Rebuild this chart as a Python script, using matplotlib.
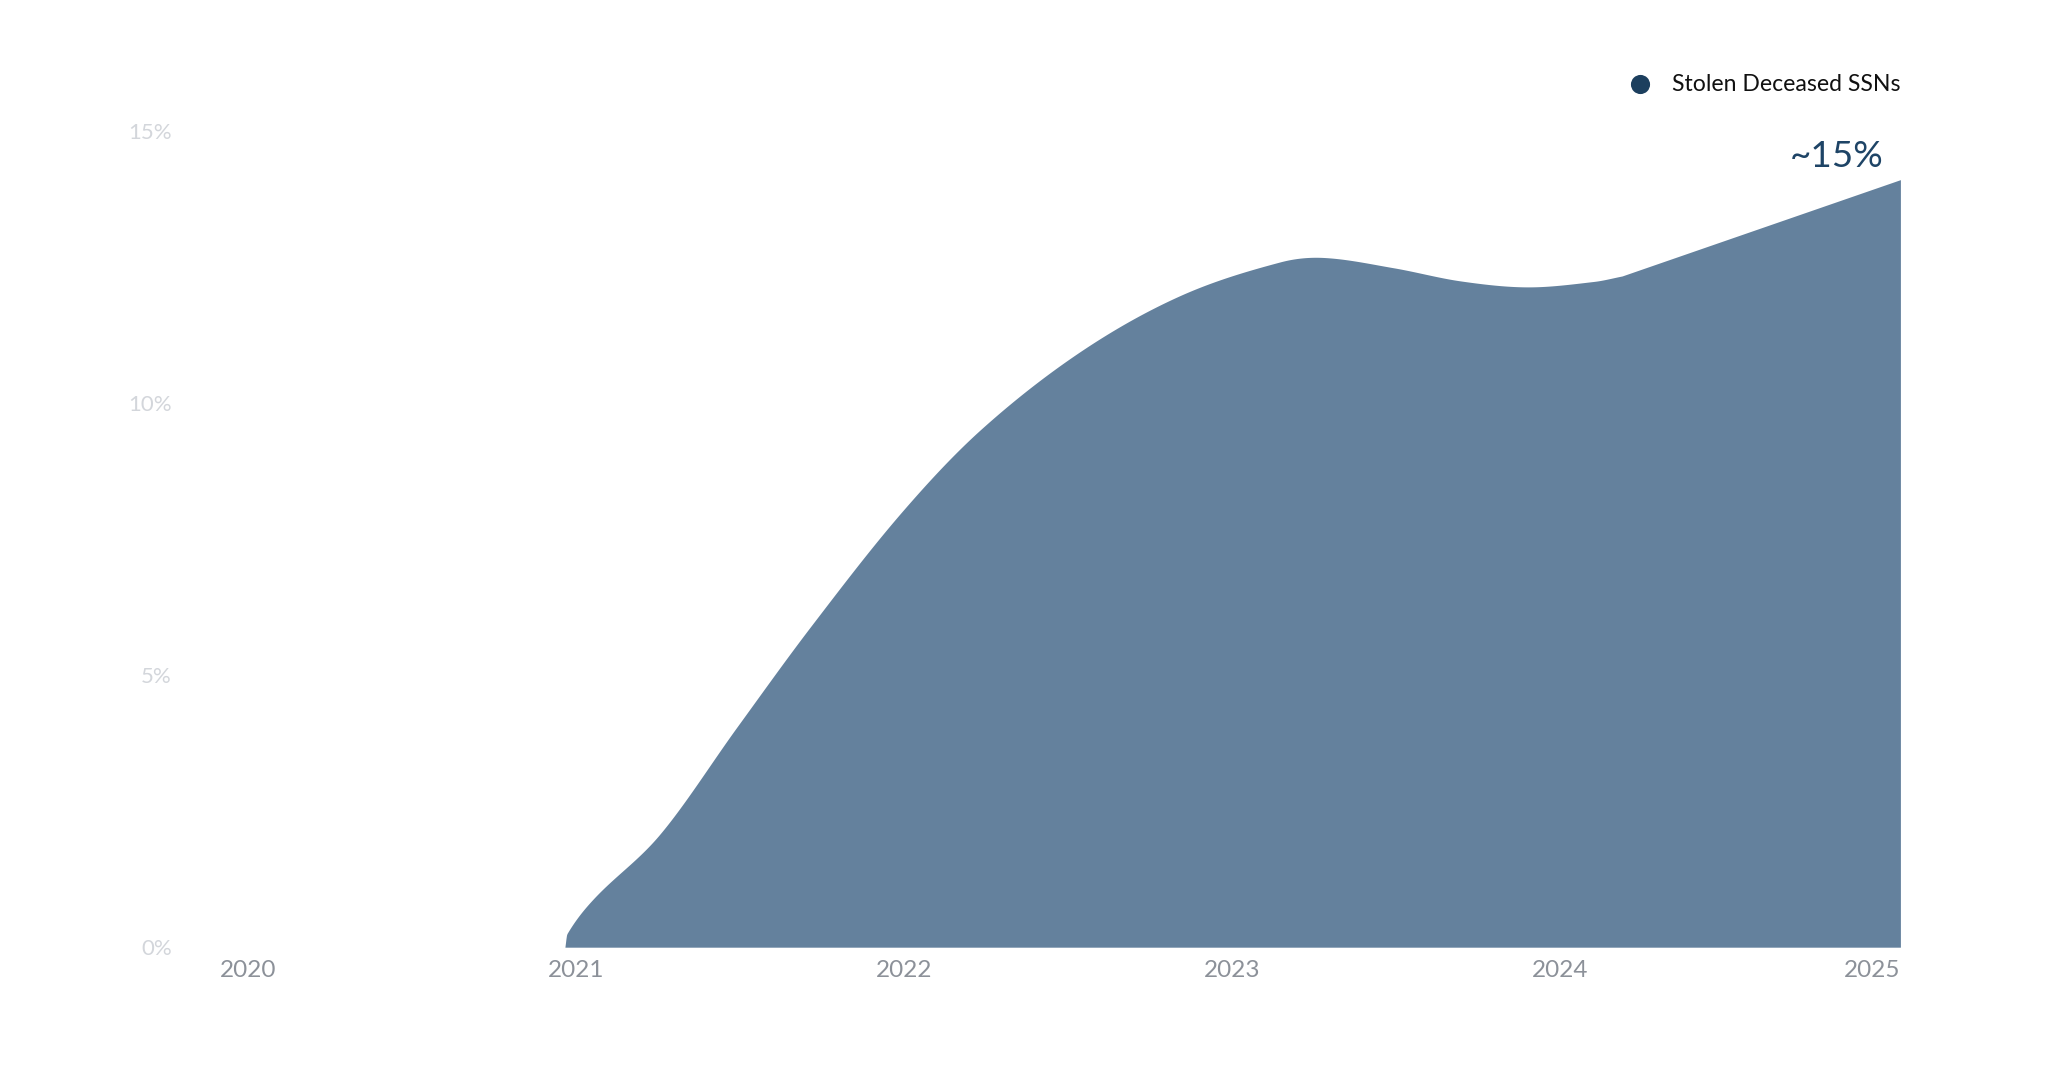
import numpy as np
import matplotlib
matplotlib.use("Agg")
import matplotlib.pyplot as plt

# ---- data ----
years = [2020.966, 2020.972, 2021.053, 2021.256, 2021.490, 2021.714, 2021.988,
         2022.232, 2022.537, 2022.842, 2023.148, 2023.280, 2023.494, 2023.697,
         2023.901, 2024.104, 2024.190, 2025.039]
values = [0.0, 0.246, 0.89, 2.08, 4.04, 5.88, 7.96,
          9.50, 10.94, 11.97, 12.59, 12.67, 12.48, 12.24,
          12.13, 12.23, 12.33, 14.10]
x_tick_labels = ["2020", "2021", "2022", "2023", "2024", "2025"]
y_ticks = [0, 5, 10, 15]
series_name = "Stolen Deceased SSNs"
end_label = "~15%"


def smooth_curve(x, y, xs):
    """Cubic Hermite curve through the points, central-difference tangents."""
    x = np.asarray(x, float); y = np.asarray(y, float)
    h = np.diff(x); d = np.diff(y) / h
    n = len(x)
    m = np.zeros(n)
    m[1:-1] = (y[2:] - y[:-2]) / (x[2:] - x[:-2])
    m[0] = d[0]
    m[-1] = d[-1]
    idx = np.clip(np.searchsorted(x, xs) - 1, 0, n - 2)
    t = (xs - x[idx]) / h[idx]
    h00 = 2 * t**3 - 3 * t**2 + 1
    h10 = t**3 - 2 * t**2 + t
    h01 = -2 * t**3 + 3 * t**2
    h11 = t**3 - t**2
    return h00 * y[idx] + h10 * h[idx] * m[idx] + h01 * y[idx + 1] + h11 * h[idx] * m[idx + 1]


# smooth curve through the points up to 2024, straight final segment (as in the reference)
xs = np.linspace(years[0], years[-2], 2000)
ys = np.maximum(smooth_curve(years[:-1], values[:-1], xs), 0)
xs = np.append(xs, years[-1])
ys = np.append(ys, values[-1])

plt.rcParams['font.family'] = ['Lato', 'DejaVu Sans']

fig = plt.figure(figsize=(20.48, 10.70), dpi=100)
W, H = 1568.0, 819.0
ax = fig.add_axes([190 / W, 1 - 725 / H, (1455 - 190) / W, (725 - 100) / H])

area_color = "#64819d"
ax.fill_between(xs, 0, ys, color=area_color, linewidth=0)

ax.set_xlim(2020, years[-1])
ax.set_ylim(0, 15)

for s in ax.spines.values():
    s.set_visible(False)

xt = [2020, 2021, 2022, 2023, 2024, years[-1]]
ax.set_xticks(xt)
ax.set_xticklabels(x_tick_labels)
ax.get_xticklabels()[-1].set_horizontalalignment('right')
ax.tick_params(axis='x', length=0, pad=9, labelsize=17.5, labelcolor="#8c9199")

ax.set_yticks(y_ticks)
ax.set_yticklabels([f"{v}%" for v in y_ticks])
ax.tick_params(axis='y', length=0, pad=55, labelsize=16, labelcolor="#d3d6db")

# end annotation
ax.annotate(end_label, xy=(years[-1], values[-1]), xytext=(-12, 17),
            textcoords='offset points', ha='right', va='center',
            fontsize=26.5, color="#1e4466", annotation_clip=False)

# legend
ax.scatter([1256 / W], [1 - 64 / H], s=190, color="#1c3f5e",
           transform=fig.transFigure, clip_on=False, linewidths=0)
fig.text(1280 / W, 1 - 64.5 / H, series_name, ha='left', va='center',
         fontsize=16.6, color="#111111")

fig.savefig("out.png", dpi=100, facecolor="white")
